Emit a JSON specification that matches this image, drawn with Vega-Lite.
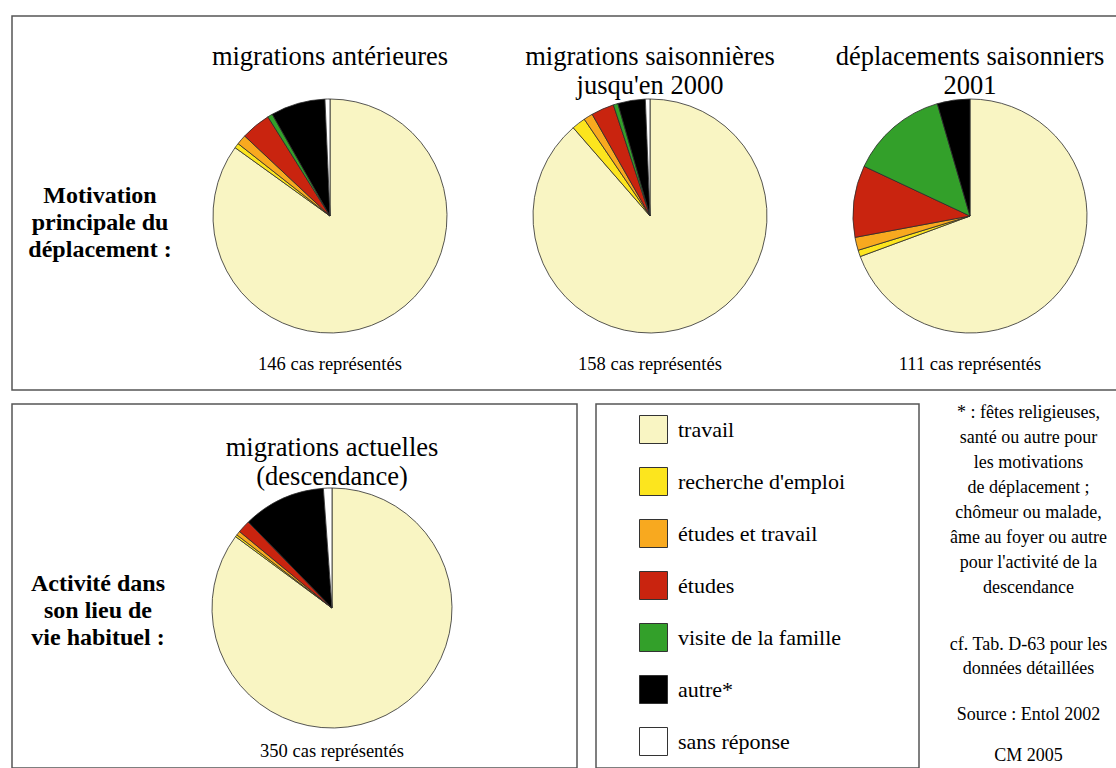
{
  "$schema": "https://vega.github.io/schema/vega-lite/v6.json",
  "background": "white",
  "padding": {"left": 11, "top": 15, "right": 0, "bottom": 0},
  "bounds": "flush",
  "config": {
    "font": "Liberation Serif",
    "view": {"stroke": null},
    "text": {"font": "Liberation Serif", "color": "black"}
  },
  "datasets": {
    "camemberts": [
      {"enquete": "antérieures", "categorie": "travail", "rang": 1, "cas": 124},
      {"enquete": "antérieures", "categorie": "recherche d'emploi", "rang": 2, "cas": 1},
      {"enquete": "antérieures", "categorie": "études et travail", "rang": 3, "cas": 2},
      {"enquete": "antérieures", "categorie": "études", "rang": 4, "cas": 6},
      {"enquete": "antérieures", "categorie": "visite de la famille", "rang": 5, "cas": 1},
      {"enquete": "antérieures", "categorie": "autre*", "rang": 6, "cas": 11},
      {"enquete": "antérieures", "categorie": "sans réponse", "rang": 7, "cas": 1},
      {"enquete": "saisonnières", "categorie": "travail", "rang": 1, "cas": 140},
      {"enquete": "saisonnières", "categorie": "recherche d'emploi", "rang": 2, "cas": 3},
      {"enquete": "saisonnières", "categorie": "études et travail", "rang": 3, "cas": 2},
      {"enquete": "saisonnières", "categorie": "études", "rang": 4, "cas": 5},
      {"enquete": "saisonnières", "categorie": "visite de la famille", "rang": 5, "cas": 1},
      {"enquete": "saisonnières", "categorie": "autre*", "rang": 6, "cas": 6},
      {"enquete": "saisonnières", "categorie": "sans réponse", "rang": 7, "cas": 1},
      {"enquete": "2001", "categorie": "travail", "rang": 1, "cas": 77},
      {"enquete": "2001", "categorie": "recherche d'emploi", "rang": 2, "cas": 1},
      {"enquete": "2001", "categorie": "études et travail", "rang": 3, "cas": 2},
      {"enquete": "2001", "categorie": "études", "rang": 4, "cas": 11},
      {"enquete": "2001", "categorie": "visite de la famille", "rang": 5, "cas": 15},
      {"enquete": "2001", "categorie": "autre*", "rang": 6, "cas": 5},
      {"enquete": "actuelles", "categorie": "travail", "rang": 1, "cas": 298},
      {"enquete": "actuelles", "categorie": "recherche d'emploi", "rang": 2, "cas": 1},
      {"enquete": "actuelles", "categorie": "études et travail", "rang": 3, "cas": 2},
      {"enquete": "actuelles", "categorie": "études", "rang": 4, "cas": 6},
      {"enquete": "actuelles", "categorie": "autre*", "rang": 6, "cas": 39},
      {"enquete": "actuelles", "categorie": "sans réponse", "rang": 7, "cas": 4}
    ],
    "titres": [
      {"enquete": "antérieures", "titre": "migrations antérieures", "legende": "146 cas représentés"},
      {"enquete": "saisonnières", "titre": "migrations saisonnières\njusqu'en 2000", "legende": "158 cas représentés"},
      {"enquete": "2001", "titre": "déplacements saisonniers\n2001", "legende": "111 cas représentés"},
      {"enquete": "actuelles", "titre": "migrations actuelles\n(descendance)", "legende": "350 cas représentés"}
    ],
    "categories": [
      {"categorie": "travail"},
      {"categorie": "recherche d'emploi"},
      {"categorie": "études et travail"},
      {"categorie": "études"},
      {"categorie": "visite de la famille"},
      {"categorie": "autre*"},
      {"categorie": "sans réponse"}
    ]
  },
  "resolve": {"legend": {"color": "independent"}},
  "spacing": 14,
  "vconcat": [
    {
      "width": 1105,
      "height": 374,
      "view": {"stroke": "#555", "strokeWidth": 1.5},
      "layer": [
        {
          "data": {"name": "camemberts"},
          "transform": [
            {"filter": "datum.enquete != 'actuelles'"},
            {"stack": "cas", "groupby": ["enquete"], "sort": [{"field": "rang", "order": "ascending"}], "offset": "normalize", "as": ["debut", "fin"]}
          ],
          "mark": {"type": "arc", "outerRadius": 117, "y": 200, "stroke": "#2b2b2b", "strokeWidth": 0.8},
          "encoding": {
            "x": {"field": "enquete", "type": "nominal", "scale": {"type": "point", "padding": 0, "domain": ["antérieures", "saisonnières", "2001"], "range": [318, 958]}, "axis": null},
            "theta": {"field": "debut", "type": "quantitative", "scale": {"domain": [0, 1]}},
            "theta2": {"field": "fin"},
            "color": {
              "field": "categorie", "type": "nominal",
              "scale": {
                "domain": ["travail", "recherche d'emploi", "études et travail", "études", "visite de la famille", "autre*", "sans réponse"],
                "range": ["#F9F5C3", "#FCE51E", "#F8A91F", "#C9240F", "#33A02A", "#000000", "#FFFFFF"]
              },
              "legend": null
            }
          }
        },
        {
          "data": {"name": "titres"},
          "transform": [{"filter": "datum.enquete != 'actuelles'"}],
          "mark": {"type": "text", "y": 41, "baseline": "middle", "align": "center", "fontSize": 26.5, "lineHeight": 29, "lineBreak": "\n"},
          "encoding": {
            "x": {"field": "enquete", "type": "nominal", "axis": null},
            "text": {"field": "titre"}
          }
        },
        {
          "data": {"name": "titres"},
          "transform": [{"filter": "datum.enquete != 'actuelles'"}],
          "mark": {"type": "text", "y": 348, "baseline": "middle", "align": "center", "fontSize": 18.5},
          "encoding": {
            "x": {"field": "enquete", "type": "nominal", "axis": null},
            "text": {"field": "legende"}
          }
        },
        {
          "data": {"values": [{"libelle": "Motivation\nprincipale du\ndéplacement :"}]},
          "mark": {"type": "text", "x": 88, "y": 180, "baseline": "middle", "align": "center", "fontSize": 24, "fontWeight": "bold", "lineHeight": 27, "lineBreak": "\n"},
          "encoding": {"text": {"field": "libelle"}}
        }
      ]
    },
    {
      "spacing": 17,
      "resolve": {"legend": {"color": "independent"}},
      "hconcat": [
        {
          "width": 565,
          "height": 364,
          "view": {"stroke": "#555", "strokeWidth": 1.5},
          "layer": [
            {
              "data": {"name": "camemberts"},
              "transform": [
                {"filter": "datum.enquete == 'actuelles'"},
                {"stack": "cas", "groupby": ["enquete"], "sort": [{"field": "rang", "order": "ascending"}], "offset": "normalize", "as": ["debut", "fin"]}
              ],
              "mark": {"type": "arc", "outerRadius": 120, "y": 204, "stroke": "#2b2b2b", "strokeWidth": 0.8},
              "encoding": {
                "x": {"field": "enquete", "type": "nominal", "scale": {"type": "point", "padding": 0, "domain": ["actuelles"], "range": [320, 320]}, "axis": null},
                "theta": {"field": "debut", "type": "quantitative", "scale": {"domain": [0, 1]}},
                "theta2": {"field": "fin"},
                "color": {
                  "field": "categorie", "type": "nominal",
                  "scale": {
                    "domain": ["travail", "recherche d'emploi", "études et travail", "études", "visite de la famille", "autre*", "sans réponse"],
                    "range": ["#F9F5C3", "#FCE51E", "#F8A91F", "#C9240F", "#33A02A", "#000000", "#FFFFFF"]
                  },
                  "legend": null
                }
              }
            },
            {
              "data": {"name": "titres"},
              "transform": [{"filter": "datum.enquete == 'actuelles'"}],
              "mark": {"type": "text", "y": 44, "baseline": "middle", "align": "center", "fontSize": 26.5, "lineHeight": 29, "lineBreak": "\n"},
              "encoding": {
                "x": {"field": "enquete", "type": "nominal", "axis": null},
                "text": {"field": "titre"}
              }
            },
            {
              "data": {"name": "titres"},
              "transform": [{"filter": "datum.enquete == 'actuelles'"}],
              "mark": {"type": "text", "y": 347, "baseline": "middle", "align": "center", "fontSize": 18.5},
              "encoding": {
                "x": {"field": "enquete", "type": "nominal", "axis": null},
                "text": {"field": "legende"}
              }
            },
            {
              "data": {"values": [{"libelle": "Activité dans\nson lieu de\nvie habituel :"}]},
              "mark": {"type": "text", "x": 86, "y": 180, "baseline": "middle", "align": "center", "fontSize": 24, "fontWeight": "bold", "lineHeight": 27, "lineBreak": "\n"},
              "encoding": {"text": {"field": "libelle"}}
            }
          ]
        },
        {
          "width": 323,
          "height": 364,
          "view": {"stroke": "#555", "strokeWidth": 1.5},
          "data": {"name": "categories"},
          "mark": {"type": "arc", "outerRadius": 0, "strokeWidth": 0},
          "encoding": {
            "color": {
              "field": "categorie", "type": "nominal",
              "scale": {
                "domain": ["travail", "recherche d'emploi", "études et travail", "études", "visite de la famille", "autre*", "sans réponse"],
                "range": ["#F9F5C3", "#FCE51E", "#F8A91F", "#C9240F", "#33A02A", "#000000", "#FFFFFF"]
              },
              "legend": {
                "orient": "none", "legendX": 43, "legendY": 11, "title": null,
                "symbolType": "square", "symbolSize": 784,
                "symbolStrokeColor": "#333", "symbolStrokeWidth": 1, "symbolOpacity": 1,
                "labelFontSize": 22, "labelFont": "Liberation Serif", "labelColor": "black",
                "labelOffset": 10, "rowPadding": 19, "padding": 0, "labelLimit": 300
              }
            }
          }
        },
        {
          "width": 183,
          "height": 364,
          "layer": [
            {
              "data": {"values": [{"note": "* : fêtes religieuses,\nsanté ou autre pour\nles motivations\nde déplacement  ;\nchômeur ou malade,\nâme au foyer ou autre\npour l'activité de la\ndescendance"}]},
              "mark": {"type": "text", "x": 91.5, "y": 0, "baseline": "top", "align": "center", "fontSize": 18, "lineHeight": 25, "lineBreak": "\n"},
              "encoding": {"text": {"field": "note"}}
            },
            {
              "data": {"values": [{"note": "cf. Tab. D-63 pour les\ndonnées détaillées"}]},
              "mark": {"type": "text", "x": 91.5, "y": 232, "baseline": "top", "align": "center", "fontSize": 18, "lineHeight": 24, "lineBreak": "\n"},
              "encoding": {"text": {"field": "note"}}
            },
            {
              "data": {"values": [{"note": "Source : Entol 2002"}]},
              "mark": {"type": "text", "x": 91.5, "y": 302, "baseline": "top", "align": "center", "fontSize": 18},
              "encoding": {"text": {"field": "note"}}
            },
            {
              "data": {"values": [{"note": "CM 2005"}]},
              "mark": {"type": "text", "x": 91.5, "y": 343, "baseline": "top", "align": "center", "fontSize": 18},
              "encoding": {"text": {"field": "note"}}
            }
          ]
        }
      ]
    }
  ]
}
